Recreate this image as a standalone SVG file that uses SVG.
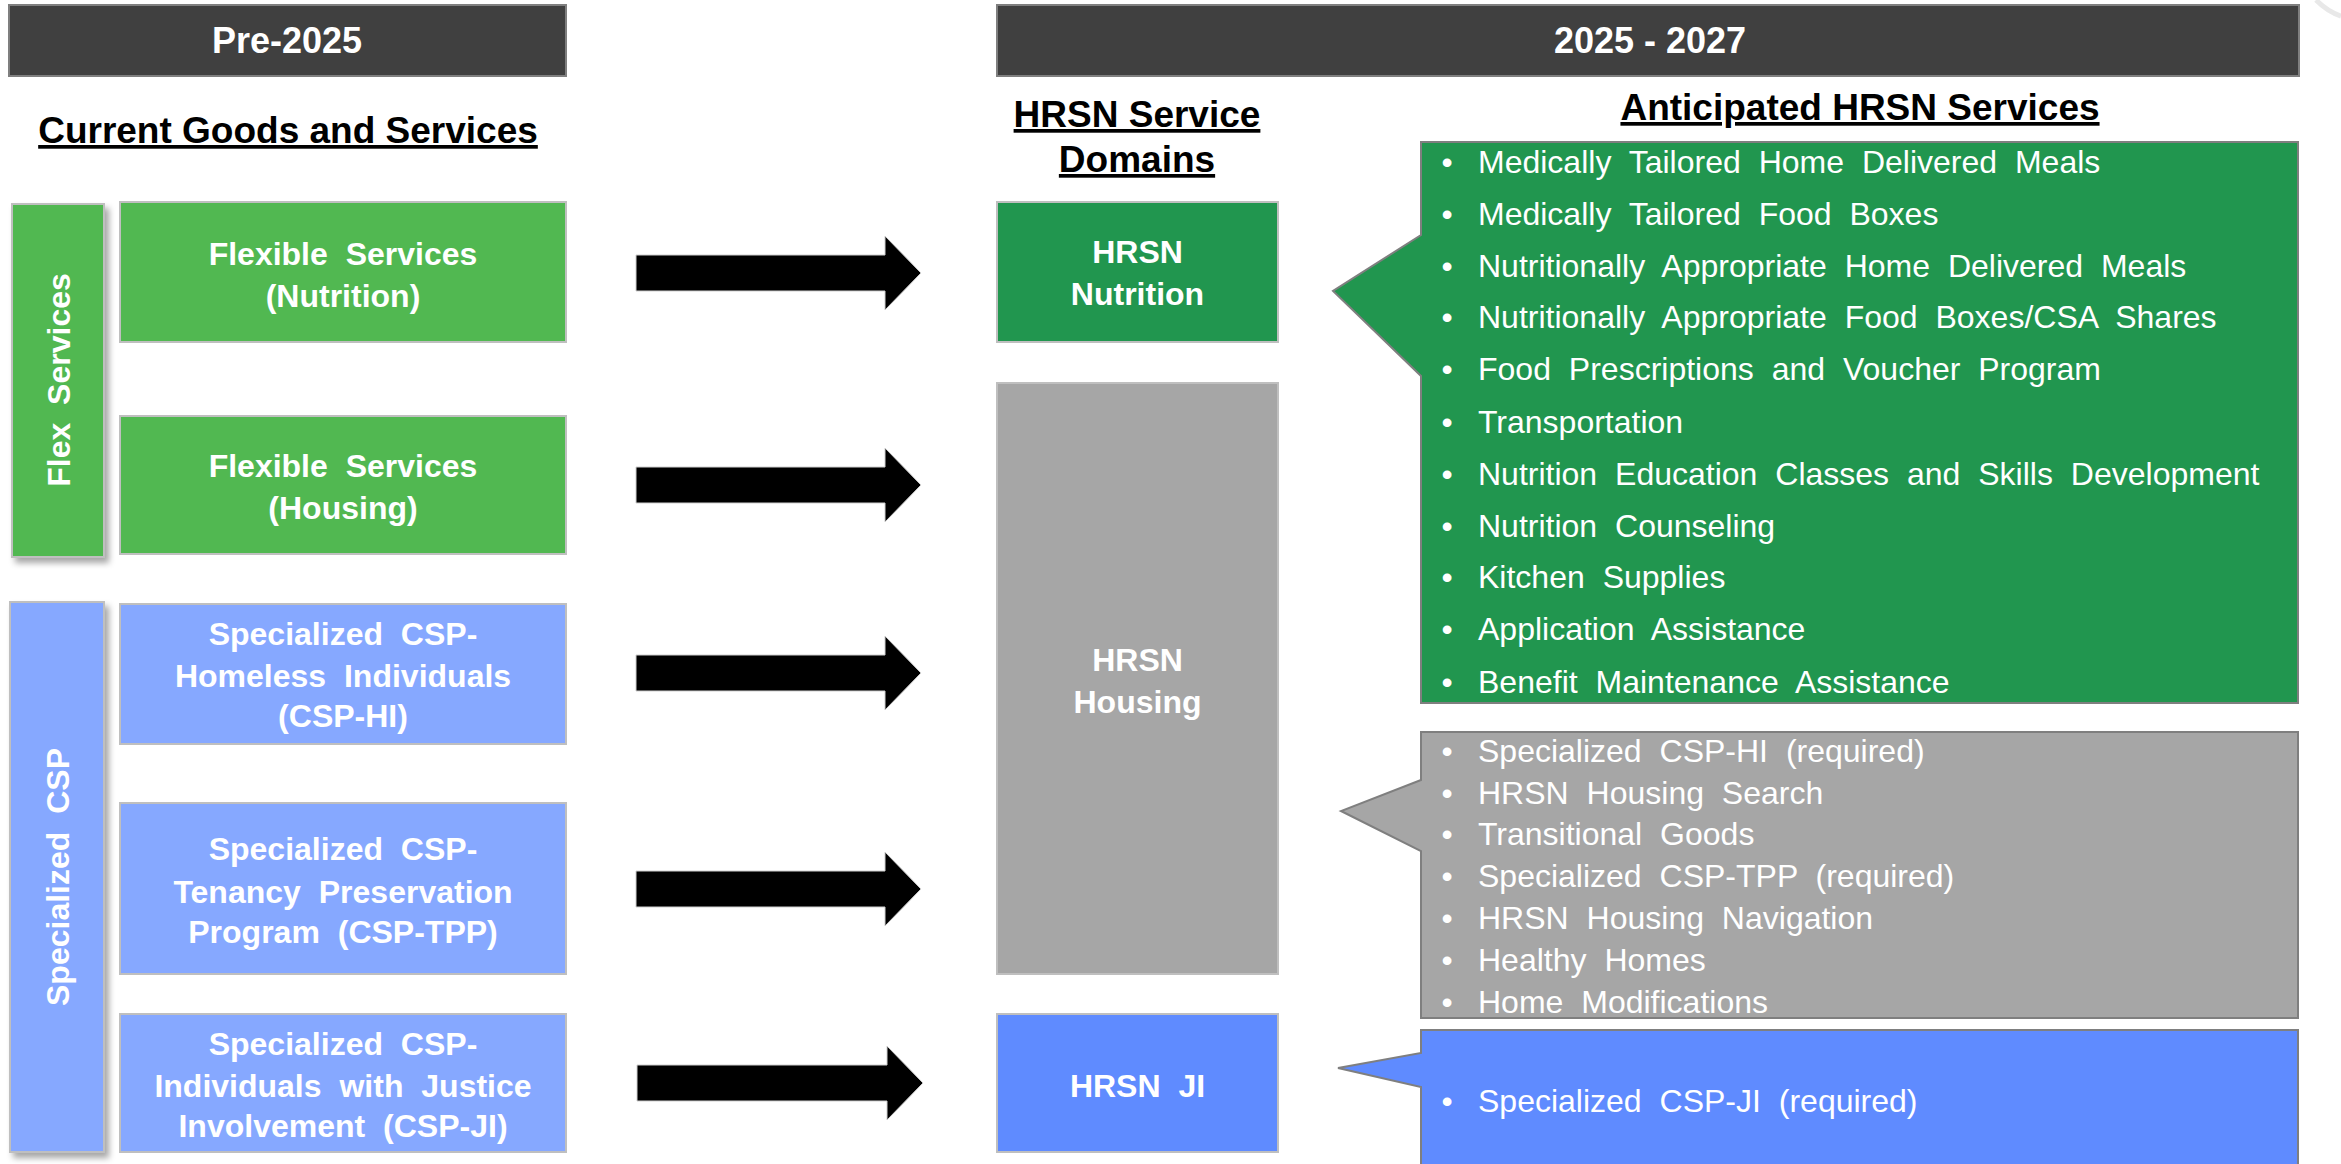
<svg xmlns="http://www.w3.org/2000/svg" width="2341" height="1164" viewBox="0 0 2341 1164">
<defs>
<style>
text{font-family:"Liberation Sans",Arial,sans-serif;}
.hdr{fill:#404040;stroke:#7f7f7f;stroke-width:2;}
.hdrt{fill:#fff;font-size:36px;font-weight:bold;text-anchor:middle;}
.title{fill:#000;font-size:37px;font-weight:bold;text-anchor:middle;text-decoration:underline;}
.lg{fill:#51b851;stroke:#bfbfbf;stroke-width:2;}
.lb{fill:#86a8ff;stroke:#bfbfbf;stroke-width:2;}
.dg{fill:#21964f;stroke:#bfbfbf;stroke-width:2;}
.gr{fill:#a6a6a6;stroke:#bfbfbf;stroke-width:2;}
.db{fill:#5f8bff;stroke:#bfbfbf;stroke-width:2;}
.nt{fill:#fff;font-size:32px;font-weight:bold;text-anchor:middle;word-spacing:9px;}
.arrow{fill:#000;stroke:#cfcfcf;stroke-width:1;}
.co{stroke:#7f7f7f;stroke-width:2;}
.it{fill:#fff;font-size:32px;word-spacing:9px;}
.bu{fill:#fff;font-size:32px;text-anchor:middle;}
</style>
<filter id="sh" x="-20%" y="-20%" width="150%" height="150%">
<feDropShadow dx="4" dy="5" stdDeviation="3" flood-color="#000" flood-opacity="0.35"/>
</filter>
</defs>
<rect width="2341" height="1164" fill="#fff"/>
<path d="M2316,0 Q2328,12 2341,16" fill="none" stroke="#e8e8e8" stroke-width="5"/>

<g id="header-pre2025">
<rect class="hdr" x="9" y="5" width="557" height="71"/>
<text class="hdrt" x="287" y="53">Pre-2025</text>
</g>
<g id="header-2025-2027">
<rect class="hdr" x="997" y="5" width="1302" height="71"/>
<text class="hdrt" x="1650" y="53">2025 - 2027</text>
</g>
<g id="title-current">
<text class="title" x="288" y="143">Current Goods and Services</text>
</g>
<g id="title-domains">
<text class="title" x="1137" y="127">HRSN Service</text>
<text class="title" x="1137" y="172">Domains</text>
</g>
<g id="title-anticipated">
<text class="title" x="1860" y="120">Anticipated HRSN Services</text>
</g>

<g id="bar-flex">
<rect class="lg" x="12" y="204" width="92" height="353" filter="url(#sh)"/>
<text class="nt" transform="translate(58,380) rotate(-90)" y="11.5">Flex Services</text>
</g>
<g id="bar-csp">
<rect class="lb" x="10" y="602" width="94" height="550" filter="url(#sh)"/>
<text class="nt" transform="translate(57,877) rotate(-90)" y="11.5">Specialized CSP</text>
</g>

<g id="node-flex-nutrition">
<rect class="lg" x="120" y="202" width="446" height="140"/>
<text class="nt" x="343" y="265">Flexible Services</text>
<text class="nt" x="343" y="307">(Nutrition)</text>
</g>
<g id="node-flex-housing">
<rect class="lg" x="120" y="416" width="446" height="138"/>
<text class="nt" x="343" y="477">Flexible Services</text>
<text class="nt" x="343" y="519">(Housing)</text>
</g>
<g id="node-csp-hi">
<rect class="lb" x="120" y="604" width="446" height="140"/>
<text class="nt" x="343" y="645">Specialized CSP-</text>
<text class="nt" x="343" y="687">Homeless Individuals</text>
<text class="nt" x="343" y="727">(CSP-HI)</text>
</g>
<g id="node-csp-tpp">
<rect class="lb" x="120" y="803" width="446" height="171"/>
<text class="nt" x="343" y="860">Specialized CSP-</text>
<text class="nt" x="343" y="903">Tenancy Preservation</text>
<text class="nt" x="343" y="943">Program (CSP-TPP)</text>
</g>
<g id="node-csp-ji">
<rect class="lb" x="120" y="1014" width="446" height="138"/>
<text class="nt" x="343" y="1055">Specialized CSP-</text>
<text class="nt" x="343" y="1097">Individuals with Justice</text>
<text class="nt" x="343" y="1137">Involvement (CSP-JI)</text>
</g>

<g id="node-hrsn-nutrition">
<rect class="dg" x="997" y="202" width="281" height="140"/>
<text class="nt" x="1137.5" y="263">HRSN</text>
<text class="nt" x="1137.5" y="305">Nutrition</text>
</g>
<g id="node-hrsn-housing">
<rect class="gr" x="997" y="383" width="281" height="591"/>
<text class="nt" x="1137.5" y="671">HRSN</text>
<text class="nt" x="1137.5" y="713">Housing</text>
</g>
<g id="node-hrsn-ji">
<rect class="db" x="997" y="1014" width="281" height="138"/>
<text class="nt" x="1137.5" y="1097">HRSN JI</text>
</g>

<g id="connectors">
<polygon class="arrow" points="636,255 885,255 885,236 921,273 885,310 885,291 636,291"/>
<polygon class="arrow" points="636,467 885,467 885,448 921,485 885,522 885,503 636,503"/>
<polygon class="arrow" points="636,655 885,655 885,636 921,673 885,710 885,691 636,691"/>
<polygon class="arrow" points="636,871 885,871 885,852 921,889 885,926 885,907 636,907"/>
<polygon class="arrow" points="637,1065 887,1065 887,1046 923,1083 887,1120 887,1101 637,1101"/>
</g>

<g id="callout-nutrition">
<path class="co" fill="#21964f" d="M1421,142 H2298 V703 H1421 V376 L1333,291 L1421,235 Z"/>
<text class="bu" x="1447" y="173">•</text><text class="it" x="1478" y="173">Medically Tailored Home Delivered Meals</text>
<text class="bu" x="1447" y="225">•</text><text class="it" x="1478" y="225">Medically Tailored Food Boxes</text>
<text class="bu" x="1447" y="277">•</text><text class="it" x="1478" y="277">Nutritionally Appropriate Home Delivered Meals</text>
<text class="bu" x="1447" y="328">•</text><text class="it" x="1478" y="328">Nutritionally Appropriate Food Boxes/CSA Shares</text>
<text class="bu" x="1447" y="380">•</text><text class="it" x="1478" y="380">Food Prescriptions and Voucher Program</text>
<text class="bu" x="1447" y="433">•</text><text class="it" x="1478" y="433">Transportation</text>
<text class="bu" x="1447" y="485">•</text><text class="it" x="1478" y="485">Nutrition Education Classes and Skills Development</text>
<text class="bu" x="1447" y="537">•</text><text class="it" x="1478" y="537">Nutrition Counseling</text>
<text class="bu" x="1447" y="588">•</text><text class="it" x="1478" y="588">Kitchen Supplies</text>
<text class="bu" x="1447" y="640">•</text><text class="it" x="1478" y="640">Application Assistance</text>
<text class="bu" x="1447" y="693">•</text><text class="it" x="1478" y="693">Benefit Maintenance Assistance</text>
</g>

<g id="callout-housing">
<path class="co" fill="#a6a6a6" d="M1421,732 H2298 V1018 H1421 V851 L1341,811 L1421,780 Z"/>
<text class="bu" x="1447" y="762">•</text><text class="it" x="1478" y="762">Specialized CSP-HI (required)</text>
<text class="bu" x="1447" y="804">•</text><text class="it" x="1478" y="804">HRSN Housing Search</text>
<text class="bu" x="1447" y="845">•</text><text class="it" x="1478" y="845">Transitional Goods</text>
<text class="bu" x="1447" y="887">•</text><text class="it" x="1478" y="887">Specialized CSP-TPP (required)</text>
<text class="bu" x="1447" y="929">•</text><text class="it" x="1478" y="929">HRSN Housing Navigation</text>
<text class="bu" x="1447" y="971">•</text><text class="it" x="1478" y="971">Healthy Homes</text>
<text class="bu" x="1447" y="1013">•</text><text class="it" x="1478" y="1013">Home Modifications</text>
</g>

<g id="callout-ji">
<path class="co" fill="#5f8bff" d="M1421,1030 H2298 V1180 H1421 V1087 L1338,1068 L1421,1053 Z"/>
<text class="bu" x="1447" y="1112">•</text><text class="it" x="1478" y="1112">Specialized CSP-JI (required)</text>
</g>
</svg>
